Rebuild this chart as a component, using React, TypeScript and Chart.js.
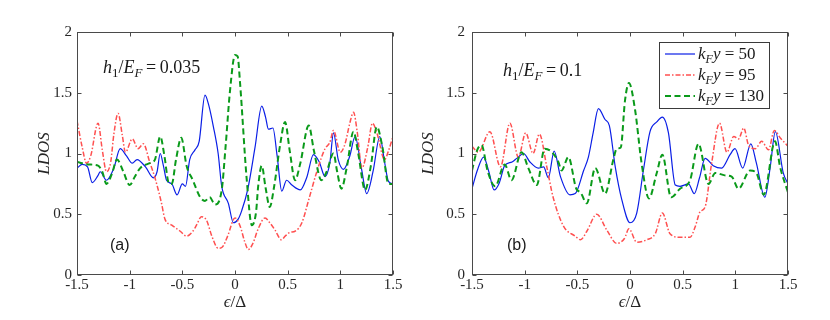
import React, { useEffect, useRef } from "react";
import { Chart, registerables } from "chart.js";
Chart.register(...registerables);

// ---------- data ----------
const X_TICKS = [-1.5, -1, -0.5, 0, 0.5, 1, 1.5];
const Y_TICKS = [0, 0.5, 1, 1.5, 2];
const SERIES_KFY = ["50", "95", "130"];
const PANEL_TAGS = ["(a)", "(b)"];
const PANEL_H1 = ["0.035", "0.1"];

// panel (a)  h1/EF = 0.035
const A_BLUE: [number, number][] = [
  [-1.5, 0.88], [-1.45, 0.91], [-1.4, 0.89], [-1.355, 0.76], [-1.3, 0.82], [-1.28, 0.85], [-1.22, 0.78],
  [-1.15, 0.88], [-1.09, 1.04], [-1.03, 0.98], [-0.975, 0.92], [-0.93, 0.95], [-0.85, 0.89], [-0.775, 0.8],
  [-0.74, 0.85], [-0.71, 1.0], [-0.68, 0.9], [-0.65, 0.78], [-0.6, 0.75], [-0.55, 0.66], [-0.5, 0.75],
  [-0.47, 0.73], [-0.43, 0.95], [-0.38, 1.03], [-0.34, 1.1], [-0.285, 1.48], [-0.25, 1.4], [-0.205, 1.22],
  [-0.16, 1.0], [-0.126, 0.73], [-0.063, 0.59], [-0.015, 0.43], [0.03, 0.46], [0.064, 0.53], [0.12, 0.7],
  [0.19, 1.05], [0.254, 1.39], [0.29, 1.3], [0.317, 1.2], [0.36, 1.21], [0.4, 0.98], [0.444, 0.69],
  [0.49, 0.78], [0.54, 0.74], [0.62, 0.7], [0.68, 0.8], [0.745, 0.99], [0.8, 0.93], [0.855, 0.81],
  [0.9, 0.92], [0.935, 1.17], [0.98, 0.95], [1.03, 0.87], [1.09, 0.98], [1.14, 1.14], [1.2, 0.88],
  [1.25, 0.67], [1.31, 0.85], [1.375, 1.14], [1.42, 0.93], [1.457, 0.77], [1.5, 0.75],
];
const A_RED: [number, number][] = [
  [-1.5, 1.27], [-1.45, 1.05], [-1.41, 0.92], [-1.37, 0.98], [-1.3, 1.25], [-1.26, 1.03], [-1.22, 0.85],
  [-1.18, 0.93], [-1.15, 1.16], [-1.11, 1.33], [-1.07, 1.15], [-1.04, 1.01], [-0.975, 1.12], [-0.92, 1.04],
  [-0.87, 1.08], [-0.81, 0.93], [-0.76, 0.8], [-0.7, 0.6], [-0.665, 0.46], [-0.6, 0.41], [-0.52, 0.36],
  [-0.46, 0.32], [-0.4, 0.36], [-0.36, 0.42], [-0.32, 0.48], [-0.27, 0.45], [-0.22, 0.32], [-0.16, 0.22],
  [-0.12, 0.23], [-0.07, 0.32], [0.0, 0.47], [0.05, 0.4], [0.09, 0.28], [0.127, 0.21], [0.17, 0.26],
  [0.22, 0.38], [0.285, 0.47], [0.33, 0.43], [0.38, 0.37], [0.44, 0.29], [0.476, 0.32], [0.52, 0.35],
  [0.57, 0.36], [0.635, 0.43], [0.7, 0.62], [0.78, 0.86], [0.855, 1.04], [0.9, 1.09], [0.935, 1.19],
  [1.0, 1.01], [1.045, 1.08], [1.09, 1.25], [1.125, 1.34], [1.16, 1.18], [1.205, 0.88], [1.26, 1.05],
  [1.305, 1.25], [1.35, 1.16], [1.42, 0.95], [1.46, 1.03], [1.5, 1.14],
];
const A_GREEN: [number, number][] = [
  [-1.5, 0.93], [-1.39, 0.91], [-1.3, 0.9], [-1.26, 0.85], [-1.22, 0.75], [-1.17, 0.83], [-1.12, 0.95],
  [-1.06, 0.85], [-1.0, 0.74], [-0.95, 0.81], [-0.9, 0.88], [-0.81, 0.92], [-0.76, 0.95], [-0.71, 1.14],
  [-0.67, 0.98], [-0.63, 0.76], [-0.6, 0.75], [-0.56, 0.95], [-0.51, 1.13], [-0.46, 0.9], [-0.4, 0.78],
  [-0.33, 0.64], [-0.285, 0.61], [-0.24, 0.64], [-0.19, 0.58], [-0.126, 0.7], [-0.09, 1.05], [-0.047, 1.52],
  [0.0, 1.81], [0.025, 1.8], [0.048, 1.58], [0.11, 0.8], [0.16, 0.41], [0.2, 0.52], [0.22, 0.73],
  [0.254, 0.9], [0.29, 0.72], [0.33, 0.56], [0.37, 0.72], [0.43, 1.08], [0.475, 1.26], [0.52, 1.02],
  [0.57, 0.78], [0.62, 0.92], [0.7, 1.23], [0.75, 1.02], [0.82, 0.78], [0.87, 0.85], [0.935, 1.0],
  [0.97, 0.85], [1.01, 0.71], [1.06, 0.88], [1.125, 1.18], [1.17, 1.0], [1.235, 0.7], [1.29, 0.9],
  [1.346, 1.22], [1.4, 1.05], [1.457, 0.75], [1.5, 0.75],
];

// panel (b)  h1/EF = 0.1
const B_BLUE: [number, number][] = [
  [-1.5, 0.71], [-1.45, 0.86], [-1.39, 0.97], [-1.34, 0.85], [-1.29, 0.7], [-1.24, 0.76], [-1.19, 0.9],
  [-1.12, 0.93], [-1.075, 0.96], [-1.01, 1.0], [-0.95, 0.93], [-0.87, 0.88], [-0.82, 0.89], [-0.775, 0.8],
  [-0.72, 1.02], [-0.66, 0.81], [-0.57, 0.66], [-0.52, 0.67], [-0.44, 0.86], [-0.395, 0.97], [-0.35, 1.17],
  [-0.3, 1.37], [-0.237, 1.28], [-0.196, 1.23], [-0.14, 0.89], [-0.078, 0.62], [0.0, 0.43], [0.064, 0.51],
  [0.127, 0.86], [0.19, 1.18], [0.254, 1.26], [0.307, 1.3], [0.365, 1.17], [0.43, 0.74], [0.475, 0.73],
  [0.555, 0.75], [0.61, 0.67], [0.66, 0.8], [0.713, 0.96], [0.79, 0.9], [0.87, 0.88], [0.95, 0.99],
  [0.997, 1.04], [1.07, 0.88], [1.147, 1.08], [1.2, 0.92], [1.28, 0.64], [1.33, 0.88], [1.38, 1.18],
  [1.455, 0.84], [1.5, 0.75],
];
const B_RED: [number, number][] = [
  [-1.5, 1.06], [-1.44, 1.01], [-1.33, 1.18], [-1.23, 0.89], [-1.14, 1.25], [-1.06, 0.97], [-0.99, 1.17],
  [-0.92, 1.0], [-0.86, 1.16], [-0.79, 0.89], [-0.73, 0.64], [-0.63, 0.4], [-0.52, 0.32], [-0.47, 0.29],
  [-0.41, 0.36], [-0.316, 0.5], [-0.22, 0.37], [-0.126, 0.26], [-0.053, 0.3], [-0.01, 0.38], [0.064, 0.27],
  [0.16, 0.29], [0.24, 0.34], [0.307, 0.51], [0.38, 0.34], [0.475, 0.31], [0.57, 0.31], [0.62, 0.4],
  [0.665, 0.52], [0.713, 0.56], [0.775, 0.92], [0.85, 1.25], [0.92, 1.01], [0.985, 1.14], [1.03, 1.12],
  [1.08, 1.21], [1.125, 1.07], [1.19, 1.04], [1.25, 1.1], [1.315, 1.03], [1.37, 1.19], [1.425, 1.13],
  [1.5, 1.06],
];
const B_GREEN: [number, number][] = [
  [-1.5, 0.86], [-1.45, 1.03], [-1.41, 1.07], [-1.35, 0.85], [-1.28, 0.73], [-1.19, 0.91], [-1.125, 0.78],
  [-1.03, 1.01], [-0.965, 0.88], [-0.885, 0.74], [-0.81, 1.04], [-0.74, 1.01], [-0.68, 0.93], [-0.65, 0.86],
  [-0.585, 0.97], [-0.51, 0.71], [-0.47, 0.68], [-0.41, 0.59], [-0.33, 0.88], [-0.237, 0.67], [-0.158, 0.95],
  [-0.126, 1.04], [-0.088, 1.05], [-0.047, 1.44], [-0.01, 1.58], [0.048, 1.36], [0.11, 0.92], [0.18, 0.63],
  [0.254, 0.84], [0.307, 0.99], [0.39, 0.64], [0.475, 0.71], [0.57, 0.78], [0.65, 1.08], [0.745, 0.75],
  [0.81, 0.84], [0.9, 0.82], [0.965, 0.81], [1.03, 0.71], [1.14, 0.86], [1.2, 0.84], [1.27, 0.66],
  [1.377, 1.1], [1.425, 0.89], [1.5, 0.68],
];

const PANEL_SERIES = [
  [A_BLUE, A_RED, A_GREEN],
  [B_BLUE, B_RED, B_GREEN],
];

// ---------- styles / layout ----------
const SERIF = '"Liberation Serif", "DejaVu Serif", serif';
const SANS = '"Liberation Sans", Arial, sans-serif';
const COLORS = ["#0a1ee6", "#ff5050", "#0a9a1a"];
const DASHES = [[], [5, 2, 1.5, 2], [6, 3.5]];
const WIDTHS = [1.2, 1.5, 2];

const LAYOUT = [
  { padLeft: 0, axisW: 77, padRight: 437, yTickPad: 5, hx: 103, hy: 73, tagX: 110, tagY: 250, yTitleX: 43, xTitleX: 235, legend: false },
  { padLeft: 400, axisW: 72, padRight: 42, yTickPad: 7, hx: 503, hy: 76, tagX: 507, tagY: 250, yTitleX: 427, xTitleX: 630, legend: true },
];

type Seg = { t: string; it?: boolean; sub?: boolean; font?: string };

function drawMath(ctx: CanvasRenderingContext2D, segs: Seg[], x: number, y: number, size: number, align: "left" | "center" = "left") {
  const fontOf = (s: Seg) => `${s.it ? "italic " : ""}${s.sub ? Math.round(size * 0.72) : size}px ${s.font || SERIF}`;
  let w = 0;
  for (const s of segs) {
    ctx.font = fontOf(s);
    w += ctx.measureText(s.t).width;
  }
  let cx = align === "center" ? x - w / 2 : x;
  ctx.textAlign = "left";
  ctx.textBaseline = "alphabetic";
  for (const s of segs) {
    ctx.font = fontOf(s);
    ctx.fillText(s.t, cx, s.sub ? y + size * 0.22 : y);
    cx += ctx.measureText(s.t).width;
  }
  return w;
}

function makePlugin(i: number) {
  const L = LAYOUT[i];
  return {
    id: "deco" + i,
    afterDatasetsDraw(chart: any) {
      const { ctx, chartArea: a, scales } = chart;
      ctx.save();
      // box + inward ticks
      ctx.strokeStyle = "#4a4a4a";
      ctx.lineWidth = 1;
      ctx.setLineDash([]);
      const l = Math.round(a.left) + 0.5, r = Math.round(a.right) - 0.5, t = Math.round(a.top) + 0.5, b = Math.round(a.bottom) - 0.5;
      ctx.strokeRect(l, t, r - l, b - t);
      ctx.beginPath();
      for (const v of X_TICKS) {
        const px = Math.round(scales.x.getPixelForValue(v)) + 0.5;
        ctx.moveTo(px, b); ctx.lineTo(px, b - 4);
        ctx.moveTo(px, t); ctx.lineTo(px, t + 4);
      }
      for (const v of Y_TICKS) {
        const py = Math.round(scales.y.getPixelForValue(v)) + 0.5;
        ctx.moveTo(l, py); ctx.lineTo(l + 4, py);
        ctx.moveTo(r, py); ctx.lineTo(r - 4, py);
      }
      ctx.stroke();

      ctx.fillStyle = "#1a1a1a";
      // annotation h1/EF = value
      drawMath(ctx, [
        { t: "h", it: true }, { t: "1", sub: true }, { t: "/" }, { t: "E", it: true }, { t: "F", it: true, sub: true },
        { t: "\u2009=\u2009" + PANEL_H1[i] },
      ], L.hx, L.hy, 18);

      // panel tag
      ctx.font = `16px ${SANS}`;
      ctx.textAlign = "left";
      ctx.textBaseline = "alphabetic";
      ctx.fillText(PANEL_TAGS[i], L.tagX, L.tagY);

      // axis titles
      ctx.fillStyle = "#262626";
      drawMath(ctx, [{ t: "\u03f5", it: true }, { t: "/\u0394" }], L.xTitleX, 307, 17, "center");
      ctx.save();
      ctx.translate(L.yTitleX + 6, (a.top + a.bottom) / 2);
      ctx.rotate(-Math.PI / 2);
      drawMath(ctx, [{ t: "LDOS", it: true }], 0, 0, 17, "center");
      ctx.restore();

      // legend
      if (L.legend) {
        const bx = 659.5, by = 42.5, bw = 110, bh = 66;
        ctx.fillStyle = "#ffffff";
        ctx.fillRect(bx, by, bw, bh);
        ctx.strokeStyle = "#3a3a3a";
        ctx.lineWidth = 1;
        ctx.strokeRect(bx, by, bw, bh);
        const rows = [54, 75, 96];
        for (let k = 0; k < 3; k++) {
          ctx.strokeStyle = COLORS[k];
          ctx.lineWidth = WIDTHS[k];
          ctx.setLineDash(DASHES[k]);
          ctx.beginPath();
          ctx.moveTo(665, rows[k]);
          ctx.lineTo(695, rows[k]);
          ctx.stroke();
          ctx.setLineDash([]);
          ctx.fillStyle = "#1a1a1a";
          drawMath(ctx, [
            { t: "k", it: true }, { t: "F", it: true, sub: true }, { t: "y", it: true }, { t: " = " + SERIES_KFY[k] },
          ], 698, rows[k] + 5, 17);
        }
      }
      ctx.restore();
    },
  };
}

function makeConfig(i: number): any {
  const L = LAYOUT[i];
  const tickFont = { family: SERIF, size: 15 };
  const fmt = (v: any) => String(Number(v));
  return {
    type: "line",
    data: {
      datasets: PANEL_SERIES[i].map((s, k) => ({
        label: "kFy = " + SERIES_KFY[k],
        data: s.map(([x, y]) => ({ x, y })),
        borderColor: COLORS[k],
        borderWidth: WIDTHS[k],
        borderDash: DASHES[k],
        pointRadius: 0,
        fill: false,
        cubicInterpolationMode: "monotone",
        order: 3 - k,
      })),
    },
    options: {
      responsive: false,
      animation: false,
      devicePixelRatio: 1,
      events: [],
      layout: { padding: { left: L.padLeft, right: L.padRight, top: 32, bottom: 0 } },
      plugins: { legend: { display: false }, tooltip: { enabled: false } },
      scales: {
        x: {
          type: "linear",
          min: -1.5,
          max: 1.5,
          ticks: { stepSize: 0.5, padding: 1, color: "#262626", font: tickFont, maxRotation: 0, autoSkip: false, callback: fmt },
          grid: { display: false, drawTicks: false },
          border: { display: false },
          afterFit: (s: any) => { s.height = 45; },
        },
        y: {
          type: "linear",
          min: 0,
          max: 2,
          ticks: { stepSize: 0.5, padding: L.yTickPad, color: "#262626", font: tickFont, callback: fmt },
          grid: { display: false, drawTicks: false },
          border: { display: false },
          afterFit: (s: any) => { s.width = L.axisW; },
        },
      },
    },
    plugins: [makePlugin(i)],
  };
}

export default function App() {
  const ref1 = useRef<HTMLCanvasElement>(null);
  const ref2 = useRef<HTMLCanvasElement>(null);
  useEffect(() => {
    const c1 = new Chart(ref1.current as HTMLCanvasElement, makeConfig(0));
    const c2 = new Chart(ref2.current as HTMLCanvasElement, makeConfig(1));
    return () => {
      c1.destroy();
      c2.destroy();
    };
  }, []);
  const cs: React.CSSProperties = { position: "absolute", left: 0, top: 0, width: 830, height: 320 };
  return (
    <div style={{ position: "absolute", left: 0, top: 0, width: 830, height: 320, background: "#fff" }}>
      <canvas ref={ref1} width={830} height={320} style={cs} />
      <canvas ref={ref2} width={830} height={320} style={cs} />
    </div>
  );
}
